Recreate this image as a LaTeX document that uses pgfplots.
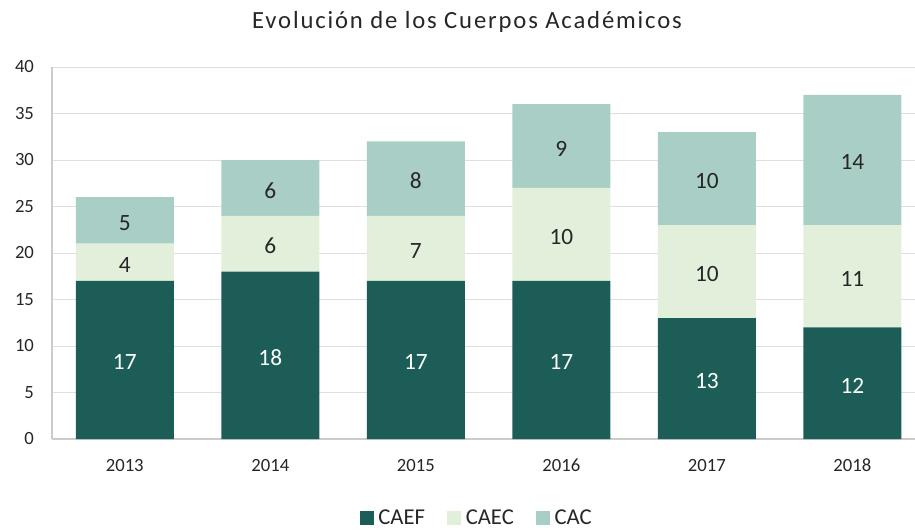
\documentclass[border=0pt]{standalone}
\usepackage{pgfplots}
\pgfplotsset{compat=1.18}
\usepackage{fontspec}
\setmainfont{Carlito}
\definecolor{caef}{HTML}{1C5E57}
\definecolor{caec}{HTML}{E2EFDA}
\definecolor{cac}{HTML}{A9CEC5}
\definecolor{txt}{HTML}{262626}
\definecolor{gridc}{HTML}{DFDFDF}
\definecolor{axc}{HTML}{CCCCCC}
\pgfplotsset{
  common/.style={
    scale only axis, width=647.25pt, height=279pt,
    xmin=-0.5, xmax=5.43, ymin=0, ymax=40,
  },
}
\begin{document}
\begin{tikzpicture}
\begin{axis}[name=ax, common,
  ybar stacked, bar width=73.5pt,
  xtick={0,1,2,3,4,5}, xticklabels={2013,2014,2015,2016,2017,2018},
  ytick={0,5,...,40},
  ymajorgrids, grid style={gridc, line width=0.75pt},
  axis x line*=bottom, axis y line*=left,
  axis line style={axc, line width=1pt, -},
  major tick length=0pt,
  tick label style={font=\fontsize{14}{16}\selectfont, text=txt},
  xticklabel style={yshift=-11.5pt},
  yticklabel style={xshift=-10pt},
  /pgf/number format/assume math mode=true,
  legend style={at={(0.4925,-0.2124)}, anchor=center, draw=none, fill=none, legend columns=-1,
    font=\fontsize{17}{19}\selectfont, text=txt,
    /tikz/every odd column/.append style={column sep=1.5pt},
    /tikz/every even column/.append style={column sep=14.5pt}},
]
\addplot[fill=caef, draw=none,
  legend image code/.code={\fill[caef] (0pt,-5.25pt) rectangle (10.5pt,5.25pt);}]
  coordinates {(0,17) (1,18) (2,17) (3,17) (4,13) (5,12)};
\addplot[fill=caec, draw=none,
  legend image code/.code={\fill[caec] (0pt,-5.25pt) rectangle (10.5pt,5.25pt);}]
  coordinates {(0,4) (1,6) (2,7) (3,10) (4,10) (5,11)};
\addplot[fill=cac, draw=none,
  legend image code/.code={\fill[cac] (0pt,-5.25pt) rectangle (10.5pt,5.25pt);}]
  coordinates {(0,5) (1,6) (2,8) (3,9) (4,10) (5,14)};
\legend{CAEF,CAEC,CAC}
\end{axis}
\begin{axis}[common, at={(ax.south west)}, anchor=south west, hide axis,
  nodes near coords, point meta=explicit symbolic,
  every node near coord/.append style={anchor=center, yshift=-1.8pt, font=\fontsize{17.5}{20}\selectfont}]
\addplot[only marks, mark=none, nodes near coords style={text=white}]
  coordinates {(0,8.5) [17] (1,9) [18] (2,8.5) [17] (3,8.5) [17] (4,6.5) [13] (5,6) [12]};
\addplot[only marks, mark=none, nodes near coords style={text=txt}]
  coordinates {(0,19) [4] (1,21) [6] (2,20.5) [7] (3,22) [10] (4,18) [10] (5,17.5) [11]
               (0,23.5) [5] (1,27) [6] (2,28) [8] (3,31.5) [9] (4,28) [10] (5,30) [14]};
\end{axis}
\node[text=txt] at ([shift={(311.25pt,312.75pt)}]ax.south west) {\fontsize{18.5}{21}\selectfont\addfontfeatures{LetterSpace=7.5}Evolución de los Cuerpos Académicos};
\pgfresetboundingbox
\useasboundingbox ([shift={(-39pt,-67.5pt)}]ax.south west) rectangle ++(686.25pt,396.75pt);
\end{tikzpicture}
\end{document}
